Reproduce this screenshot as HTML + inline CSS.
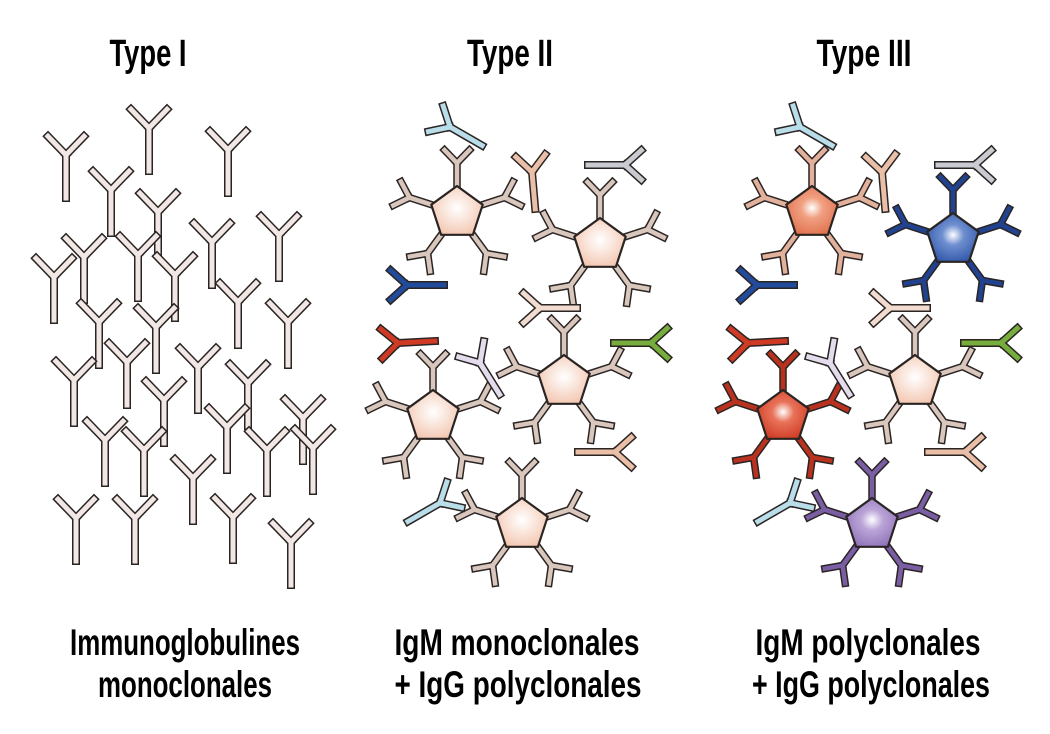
<!DOCTYPE html>
<html><head><meta charset="utf-8"><style>
html,body{margin:0;padding:0;background:#fff;}
svg{display:block}
text{font-family:"Liberation Sans Narrow","Liberation Sans",sans-serif;font-weight:bold;fill:#000;}
</style></head><body>
<svg id="s" width="1050" height="734" viewBox="0 0 1050 734" xmlns="http://www.w3.org/2000/svg">
<defs>
<radialGradient id="gp" cx="0.5" cy="0.45" r="0.6"><stop offset="0" stop-color="#fff"/><stop offset="1" stop-color="#f3c5ae"/></radialGradient>
<radialGradient id="go" cx="0.5" cy="0.45" r="0.6"><stop offset="0" stop-color="#fff"/><stop offset="0.35" stop-color="#f0a082"/><stop offset="1" stop-color="#e0704c"/></radialGradient>
<radialGradient id="gb" cx="0.5" cy="0.45" r="0.6"><stop offset="0" stop-color="#fff"/><stop offset="0.35" stop-color="#6f8fd0"/><stop offset="1" stop-color="#2f56a8"/></radialGradient>
<radialGradient id="gr" cx="0.5" cy="0.45" r="0.6"><stop offset="0" stop-color="#fff"/><stop offset="0.35" stop-color="#e8735a"/><stop offset="1" stop-color="#cf3a22"/></radialGradient>
<radialGradient id="gv" cx="0.5" cy="0.45" r="0.6"><stop offset="0" stop-color="#fff"/><stop offset="0.35" stop-color="#bba5d8"/><stop offset="1" stop-color="#8e72b8"/></radialGradient>
</defs>
<g id="art"></g>
<text x="148" y="66" font-size="38" text-anchor="middle" textLength="77" lengthAdjust="spacingAndGlyphs">Type I</text>
<text x="510" y="66" font-size="38" text-anchor="middle" textLength="86" lengthAdjust="spacingAndGlyphs">Type II</text>
<text x="864" y="66" font-size="38" text-anchor="middle" textLength="95" lengthAdjust="spacingAndGlyphs">Type III</text>
<text x="185" y="655" font-size="37" text-anchor="middle" textLength="230" lengthAdjust="spacingAndGlyphs">Immunoglobulines</text>
<text x="185" y="697" font-size="37" text-anchor="middle" textLength="174" lengthAdjust="spacingAndGlyphs">monoclonales</text>
<text x="517" y="655" font-size="37" text-anchor="middle" textLength="245" lengthAdjust="spacingAndGlyphs">IgM monoclonales</text>
<text x="518" y="697" font-size="37" text-anchor="middle" textLength="247" lengthAdjust="spacingAndGlyphs">+ IgG polyclonales</text>
<text x="868" y="655" font-size="37" text-anchor="middle" textLength="225" lengthAdjust="spacingAndGlyphs">IgM polyclonales</text>
<text x="871" y="697" font-size="37" text-anchor="middle" textLength="238" lengthAdjust="spacingAndGlyphs">+ IgG polyclonales</text>
</svg>
<script>
var NS="http://www.w3.org/2000/svg",art=document.getElementById('art');
function el(t,a){var e=document.createElementNS(NS,t);for(var k in a)e.setAttribute(k,a[k]);art.appendChild(e);return e;}
function Y(x,y,th,col,w,arm,stem,sp){
  var s=sp*Math.PI/180,ax=Math.sin(s)*arm,ay=-Math.cos(s)*arm;
  var d="M0,"+stem+" L0,0 M0,0 L"+(-ax)+","+ay+" M0,0 L"+ax+","+ay;
  var tr="translate("+x+","+y+") rotate("+th+")";
  el('path',{d:d,transform:tr,stroke:'#2a2423','stroke-width':w+3,fill:'none','stroke-linecap':'square','stroke-linejoin':'miter'});
  el('path',{d:d,transform:tr,stroke:col,'stroke-width':w,fill:'none','stroke-linecap':'square','stroke-linejoin':'miter'});
}
var t1=[[66,155],[149,128],[228,150],[111,190],[158,212],[84,257],[138,255],[54,277],[212,242],[279,235],[175,275],[99,322],[156,327],[238,302],[288,322],[74,380],[127,362],[198,367],[164,400],[248,383],[105,440],[144,450],[227,427],[303,418],[267,450],[313,448],[193,478],[76,518],[135,518],[233,517],[291,542]];
t1.forEach(function(p){Y(p[0],p[1],0,'#f1e7e4',5,26,43,44);});
function P(cx,cy,fill,col){
  for(var i=0;i<5;i++){
    var a=-90+72*i,r=a*Math.PI/180;
    var jx=cx+50*Math.cos(r),jy=cy+50*Math.sin(r);
    Y(jx,jy,a+90,col,4.5,18,26,44);
  }
  var pts=[];for(var i=0;i<5;i++){var r=(-90+72*i)*Math.PI/180;pts.push((cx+27*Math.cos(r)).toFixed(1)+","+(cy+27*Math.sin(r)).toFixed(1));}
  el('polygon',{points:pts.join(' '),fill:fill,stroke:'#2a2423','stroke-width':2.2,'stroke-linejoin':'round'});
}
var pale='#d9c7bd';
P(457,213,'url(#gp)',pale);P(600,245,'url(#gp)',pale);P(564,382,'url(#gp)',pale);P(433,417,'url(#gp)',pale);P(522,525,'url(#gp)',pale);
P(812,213,'url(#go)','#e2b19c');P(953,240,'url(#gb)','#21438f');P(915,382,'url(#gp)',pale);P(783,417,'url(#gr)','#b8321f');P(872,525,'url(#gv)','#7a5ea3');
var LB='#b9dde9',TN='#e9bfa8',GR='#c9cbd0',BL='#224b9c',RD='#cf3a25',LV='#e3dcec',GN='#76ad3c',TP='#f2dbcf';
function F(x,y,th,c){Y(x,y,th,c,5,22,37,42);}
[[0,0],[350,0]].forEach(function(o){
  var d=o[0];
  F(450+d,127,-60,LB);
  F(532+d,172,-5,TN);
  F(625+d,165,90,GR);
  F(407+d,285,-90,BL);
  F(540+d,308,-90,TP);
  F(398+d,343,-93,RD);
  F(480+d,363,-32,LV);
  F(651+d,343,90,GN);
  F(615+d,452,90,TN);
  F(440+d,503,60,LB);
});
</script>
</body></html>
